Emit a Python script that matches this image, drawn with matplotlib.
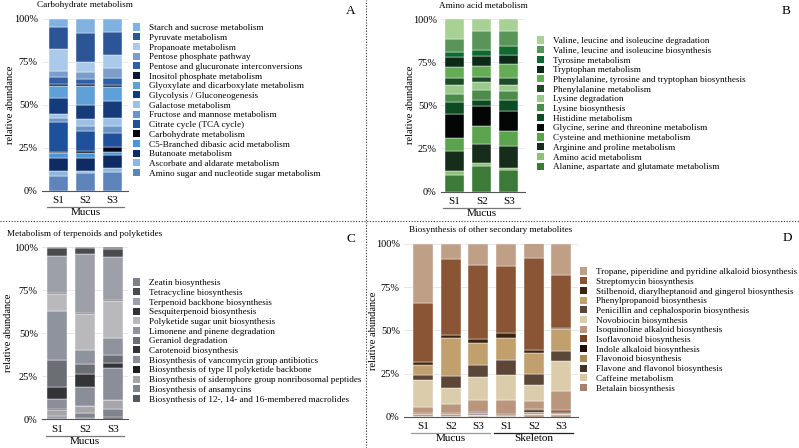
import numpy as np
import matplotlib.pyplot as plt
from matplotlib.patches import Patch
from matplotlib.lines import Line2D

plt.rcParams['font.family'] = ['Liberation Serif', 'DejaVu Serif']

W, H = 799, 448
fig = plt.figure(figsize=(W / 100, H / 100), dpi=100)

# ---- data (legend order = top of stack first), values in %
carb_names = ["Starch and sucrose metabolism", "Pyruvate metabolism", "Propanoate metabolism",
              "Pentose phosphate pathway", "Pentose and glucuronate interconversions",
              "Inositol phosphate metabolism", "Glyoxylate and dicarboxylate metabolism",
              "Glycolysis / Gluconeogenesis", "Galactose metabolism", "Fructose and mannose metabolism",
              "Citrate cycle (TCA cycle)", "Carbohydrate metabolism",
              "C5-Branched dibasic acid metabolism", "Butanoate metabolism",
              "Ascorbate and aldarate metabolism", "Amino sugar and nucleotide sugar metabolism"]
carb_colors = ["#80b1e1", "#2b5596", "#abc9e8", "#7b9dc9", "#2f5fa8", "#0b1a30", "#5fa0d9",
               "#163b7b", "#9dc1e5", "#6e94c6", "#1f509b", "#05080f", "#4b96d9", "#0f2b64",
               "#8fb7df", "#5d85bc"]
carb_s1 = [4.9, 12.8, 12.4, 3.5, 4.3, 1.2, 6.8, 9.5, 2.5, 1.9, 17.5, 0.8, 3.1, 7.2, 3.1, 8.5]
carb_s2 = [8.3, 16.9, 6.0, 3.9, 2.7, 1.2, 11.3, 8.0, 4.5, 2.5, 11.7, 1.2, 2.7, 8.0, 1.2, 10.1]
carb_s3 = [8.0, 13.0, 7.8, 6.0, 3.7, 1.4, 7.8, 10.3, 4.5, 4.3, 8.2, 2.5, 1.9, 7.4, 2.3, 11.1]

amino_names = ["Valine, leucine and isoleucine degradation",
               "Valine, leucine and isoleucine biosynthesis", "Tyrosine metabolism",
               "Tryptophan metabolism", "Phenylalanine, tyrosine and tryptophan biosynthesis",
               "Phenylalanine metabolism", "Lysine degradation", "Lysine biosynthesis",
               "Histidine metabolism", "Glycine, serine and threonine metabolism",
               "Cysteine and methionine metabolism", "Arginine and proline metabolism",
               "Amino acid metabolism", "Alanine, aspartate and glutamate metabolism"]
amino_colors = ["#a9d095", "#5b9459", "#0e6a2f", "#0c2a17", "#64ac56", "#1f4a2a", "#99c98b",
                "#4c8b49", "#0d4b23", "#030604", "#5ba34d", "#172d1b", "#8dc17b", "#3b7b37"]
amino_s1 = [11.8, 7.1, 2.9, 6.2, 6.0, 4.2, 5.2, 4.8, 6.8, 14.1, 7.3, 12.0, 1.9, 9.7]
amino_s2 = [7.3, 11.0, 3.1, 5.8, 6.6, 3.1, 4.2, 6.2, 3.1, 11.6, 10.4, 11.4, 1.4, 14.9]
amino_s3 = [7.3, 8.7, 4.8, 5.4, 7.9, 4.1, 3.9, 5.2, 6.0, 11.6, 9.1, 12.2, 1.7, 12.2]

terp_names = ["Zeatin biosynthesis", "Tetracycline biosynthesis", "Terpenoid backbone biosynthesis",
              "Sesquiterpenoid biosynthesis", "Polyketide sugar unit biosynthesis",
              "Limonene and pinene degradation", "Geraniol degradation", "Carotenoid biosynthesis",
              "Biosynthesis of vancomycin group antibiotics",
              "Biosynthesis of type II polyketide backbone",
              "Biosynthesis of siderophore group nonribosomal peptides",
              "Biosynthesis of ansamycins", "Biosynthesis of 12-, 14- and 16-membered macrolides"]
terp_colors = ["#7e818a", "#4a4b4f", "#9da0a9", "#333336", "#b9b9bb", "#8f939d", "#6c6e75",
               "#343437", "#8b8e99", "#1e1e20", "#a6a6a8", "#80848f", "#56585f"]
terp_s1 = [0.6, 4.7, 21.6, 0.4, 9.7, 28.7, 15.9, 6.8, 5.8, 0.4, 3.9, 1.0, 0.6]
terp_s2 = [0.6, 3.3, 34.6, 0.4, 21.4, 7.8, 5.8, 7.8, 10.7, 0.4, 3.9, 2.9, 0.6]
terp_s3 = [1.0, 4.9, 25.2, 0.4, 21.4, 9.9, 4.9, 2.9, 18.4, 0.4, 4.9, 4.9, 1.0]

sec_names = ["Tropane, piperidine and pyridine alkaloid biosynthesis", "Streptomycin biosynthesis",
             "Stilbenoid, diarylheptanoid and gingerol biosynthesis",
             "Phenylpropanoid biosynthesis", "Penicillin and cephalosporin biosynthesis",
             "Novobiocin biosynthesis", "Isoquinoline alkaloid biosynthesis",
             "Isoflavonoid biosynthesis", "Indole alkaloid biosynthesis", "Flavonoid biosynthesis",
             "Flavone and flavonol biosynthesis", "Caffeine metabolism", "Betalain biosynthesis"]
sec_colors = ["#bf9f85", "#8a5535", "#3d2411", "#c2a06d", "#5c4637", "#dbcdab", "#b9967d",
              "#7c4323", "#1f0c04", "#a98951", "#453223", "#d9c79d", "#a7816b"]
sec_mucus_s1 = [34.4, 33.8, 1.7, 6.0, 2.9, 15.8, 3.5, 0.4, 0.2, 0.2, 0.6, 0.2, 0.4]
sec_mucus_s2 = [8.7, 44.0, 1.9, 22.2, 6.8, 9.1, 5.4, 0.4, 0.2, 0.4, 0.4, 0.2, 0.4]
sec_mucus_s3 = [12.5, 42.5, 2.3, 13.1, 6.8, 13.1, 6.8, 0.4, 0.4, 0.6, 0.6, 0.4, 0.6]
sec_skel_s1 = [12.5, 39.2, 2.9, 12.5, 8.5, 14.7, 8.1, 0.4, 0.2, 0.2, 0.4, 0.2, 0.2]
sec_skel_s2 = [8.3, 53.5, 1.4, 12.2, 6.8, 9.1, 4.6, 0.8, 0.6, 0.8, 0.6, 0.6, 1.0]
sec_skel_s3 = [18.0, 30.9, 0.8, 12.7, 5.8, 17.4, 11.0, 0.6, 0.6, 0.4, 0.6, 0.6, 0.8]

samples = ["S1", "S2", "S3"]


def px_axes(x0, y0, x1, y1):
    return fig.add_axes([x0 / W, 1 - y1 / H, (x1 - x0) / W, (y1 - y0) / H])


def panel(box, xlim, names, colors, data, groups, title, letter, letter_xy, ylab_x, leg_xy):
    ax = px_axes(*box)
    hpx = box[3] - box[1]
    wpx = box[2] - box[0]
    data = np.array(data)
    x = np.arange(data.shape[0])
    bottom = np.zeros(len(x))
    # stack from the last category (bottom) to the first (top)
    for j in range(len(names) - 1, -1, -1):
        ax.bar(x, data[:, j], 0.72, bottom=bottom, color=colors[j], edgecolor='white',
               linewidth=0.3, zorder=3)
        bottom += data[:, j]
    ax.set_xlim(*xlim)
    ax.set_ylim(0, 100)
    ax.set_yticks([0, 25, 50, 75, 100])
    ax.set_yticklabels(["0%", "25%", "50%", "75%", "100%"], fontsize=7.5)
    ax.yaxis.grid(True, color='#e4e4e4', linewidth=0.6, zorder=0)
    ax.set_xticks(x)
    ax.set_xticklabels(samples * (len(x) // 3), fontsize=8)
    ax.tick_params(length=0, pad=3)
    ax.tick_params(axis='x', pad=4)
    for s in ['top', 'right', 'left']:
        ax.spines[s].set_visible(False)
    ax.spines['bottom'].set_color('#555555')
    ax.spines['bottom'].set_linewidth(0.8)
    ax.set_ylabel("relative abundance", fontsize=7.5)
    ax.yaxis.set_label_coords((ylab_x - box[0]) / wpx, 0.5)
    ax.text(0.5, 1 + 13.5 / hpx, title, transform=ax.transAxes, fontsize=6.6,
            ha='center', va='center')
    # group lines and labels
    trans = ax.get_xaxis_transform()
    for lab, i0, i1, lc in groups:
        ax.plot([i0 - 0.42, i1 + 0.42], [-16.5 / hpx] * 2, color=lc, lw=0.9,
                transform=trans, clip_on=False)
        ax.text((i0 + i1) / 2, -22 / hpx, lab, ha='center', va='center', fontsize=8,
                transform=trans)
    fig.text(letter_xy[0] / W, 1 - letter_xy[1] / H, letter, fontsize=9.5, ha='center',
             va='center')
    handles = [Patch(facecolor=c, edgecolor='none') for c in colors]
    fig.legend(handles, names, loc='upper left',
               bbox_to_anchor=(leg_xy[0] / W, 1 - leg_xy[1] / H), frameon=False,
               fontsize=6.6, handlelength=0.8, handleheight=0.8, handletextpad=0.9,
               labelspacing=0.11, borderpad=0, borderaxespad=0)
    return ax


panel((42, 19, 128, 190.7), (-0.62, 2.58), carb_names, carb_colors,
      [carb_s1, carb_s2, carb_s3], [("Mucus", 0, 2, '#777777')],
      "Carbohydrate metabolism", "A", (351, 11), 15, (133, 23.5))

panel((441, 19, 525, 191.5), (-0.5, 2.6), amino_names, amino_colors,
      [amino_s1, amino_s2, amino_s3], [("Mucus", 0, 2, '#777777')],
      "Amino acid metabolism", "B", (786, 11), 415, (537, 36.5))

panel((42, 247.3, 128, 419), (-0.55, 2.55), terp_names, terp_colors,
      [terp_s1, terp_s2, terp_s3], [("Mucus", 0, 2, '#777777')],
      "Metabolism of terpenoids and polyketides", "C", (351, 239), 13, (133, 278.5))

panel((404, 244, 578, 416.7), (-0.69, 5.6), sec_names, sec_colors,
      [sec_mucus_s1, sec_mucus_s2, sec_mucus_s3, sec_skel_s1, sec_skel_s2, sec_skel_s3],
      [("Mucus", 0, 2, '#999999'), ("Skeleton", 3, 5, '#222222')],
      "Biosynthesis of other secondary metabolites", "D", (787, 238), 378, (580, 267.5))

# dotted panel separators
fig.add_artist(Line2D([0, 1], [1 - 221 / H] * 2, transform=fig.transFigure, color='#333333',
                      lw=0.8, linestyle=(0, (1, 1.5))))
fig.add_artist(Line2D([366 / W] * 2, [0, 1], transform=fig.transFigure, color='#333333',
                      lw=0.8, linestyle=(0, (1, 1.5))))

plt.savefig('out.png', dpi=100)
